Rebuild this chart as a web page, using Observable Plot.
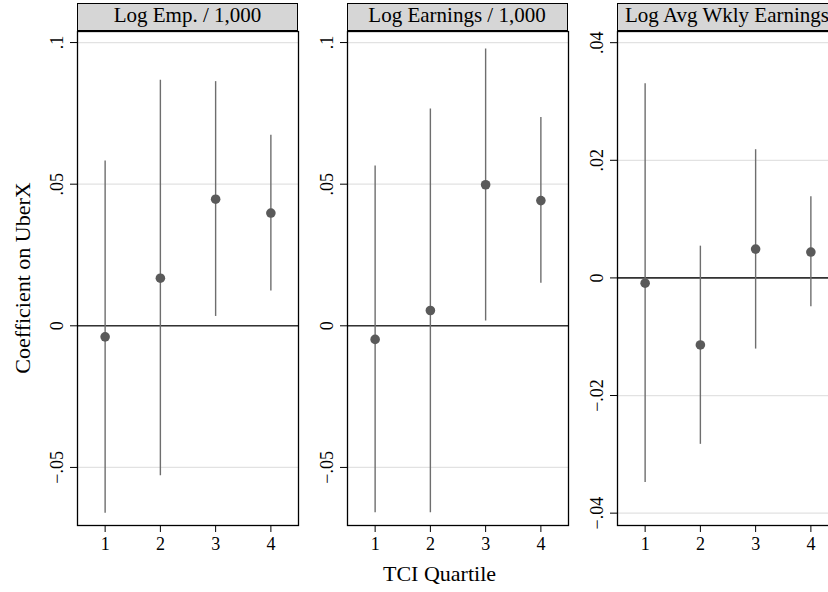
<!DOCTYPE html>
<html><head><meta charset="utf-8">
<script src="https://cdn.jsdelivr.net/npm/d3@7"></script>
<script src="https://cdn.jsdelivr.net/npm/@observablehq/plot@0.6"></script>
<style>
body{margin:0;background:#fff;}
#root{position:relative;width:828px;height:592px;overflow:hidden;background:#fff;font-family:"Liberation Serif","Times New Roman",serif;color:#000;}
.hdr{position:absolute;top:3px;height:28px;box-sizing:border-box;border:1.2px solid #000;background:#d6d6d6;text-align:center;font-size:21px;line-height:23px;white-space:nowrap;overflow:visible;}
.panel{position:absolute;top:0;}
.panel svg{max-width:none !important;}
.ytitle{position:absolute;left:22.6px;top:278px;transform:translate(-50%,-50%) rotate(-90deg);font-size:22px;white-space:nowrap;}
.xtitle{position:absolute;left:439.5px;top:562.6px;transform:translateX(-50%);font-size:22px;line-height:22px;white-space:nowrap;}
</style></head><body><div id="root"></div>
<script>
// ---- data ----
const quartiles = [1, 2, 3, 4];
const panelTitles = ["Log Emp. / 1,000", "Log Earnings / 1,000", "Log Avg Wkly Earnings"];
const yAxisTitle = "Coefficient on UberX";
const xAxisTitle = "TCI Quartile";

const empCoef = [-0.0039, 0.0168, 0.0447, 0.0398];
const empLo   = [-0.0662, -0.0529, 0.0033, 0.0123];
const empHi   = [0.0582, 0.0867, 0.0862, 0.0673];

const earnCoef = [-0.0048, 0.0054, 0.0498, 0.0442];
const earnLo   = [-0.0660, -0.0660, 0.0017, 0.0150];
const earnHi   = [0.0564, 0.0765, 0.0977, 0.0735];

const wklyCoef = [-0.0009, -0.0114, 0.0049, 0.0044];
const wklyLo   = [-0.0348, -0.0283, -0.0121, -0.0049];
const wklyHi   = [0.0330, 0.0054, 0.0218, 0.0138];

const yTicksA = [-0.05, 0, 0.05, 0.1];
const yLabelsA = ["\u2212.05", "0", ".05", ".1"];
const yTicksB = [-0.04, -0.02, 0, 0.02, 0.04];
const yLabelsB = ["\u2212.04", "\u2212.02", "0", ".02", ".04"];

// ---- layout ----
const FONT = '"Liberation Serif","Times New Roman",serif';
const frameW = 221, ML = 70, MR = 6;
const frameLefts = [77, 346.5, 616.5];
const root = document.getElementById("root");

function makePanel(coef, lo, hi, yDomain, yTicks, yLabels) {
  const data = quartiles.map((q, j) => ({q, b: coef[j], lo: lo[j], hi: hi[j]}));
  const lab = new Map(yTicks.map((t, k) => [t, yLabels[k]]));
  return Plot.plot({
    width: ML + frameW + MR, height: 592,
    marginLeft: ML, marginRight: MR, marginTop: 31, marginBottom: 67,
    style: {fontFamily: FONT, fontSize: "18px", background: "transparent", color: "#000", overflow: "visible", maxWidth: "none"},
    x: {domain: [0.5, 4.5], axis: null},
    y: {domain: yDomain, axis: null},
    marks: [
      Plot.gridY(yTicks, {stroke: "#e2e2e2", strokeOpacity: 1, strokeWidth: 1.2}),
      Plot.ruleY([0], {stroke: "#333", strokeWidth: 1.6}),
      Plot.ruleX(data, {x: "q", y1: "lo", y2: "hi", stroke: "#6e6e6e", strokeWidth: 1.4}),
      Plot.dot(data, {x: "q", y: "b", r: 4.8, fill: "#5a5a5a", stroke: "none"}),
      Plot.frame({stroke: "#000", strokeWidth: 1.3}),
      Plot.axisY(yTicks, {tickFormat: d => lab.get(d), tickRotate: -90, tickSize: 7, tickPadding: 8, fontSize: 18, label: null, stroke: "#000", fill: "#000"}),
      Plot.axisX(quartiles, {tickFormat: d => String(d), tickSize: 7, tickPadding: 5, fontSize: 18, label: null, stroke: "#000", fill: "#000"})
    ]
  });
}

const panels = [
  makePanel(empCoef, empLo, empHi, [-0.0705, 0.1039], yTicksA, yLabelsA),
  makePanel(earnCoef, earnLo, earnHi, [-0.0705, 0.1039], yTicksA, yLabelsA),
  makePanel(wklyCoef, wklyLo, wklyHi, [-0.0421, 0.0419], yTicksB, yLabelsB)
];

panels.forEach((svg, i) => {
  const wrap = document.createElement("div");
  wrap.className = "panel";
  wrap.style.left = (frameLefts[i] - ML) + "px";
  wrap.style.width = (ML + frameW + MR) + "px";
  wrap.appendChild(svg);
  root.appendChild(wrap);
  const h = document.createElement("div");
  h.className = "hdr";
  h.style.left = frameLefts[i] + "px";
  h.style.width = frameW + "px";
  h.textContent = panelTitles[i];
  root.appendChild(h);
});

const yt = document.createElement("div");
yt.className = "ytitle"; yt.textContent = yAxisTitle; root.appendChild(yt);
const xt = document.createElement("div");
xt.className = "xtitle"; xt.textContent = xAxisTitle; root.appendChild(xt);
</script>
</body></html>
